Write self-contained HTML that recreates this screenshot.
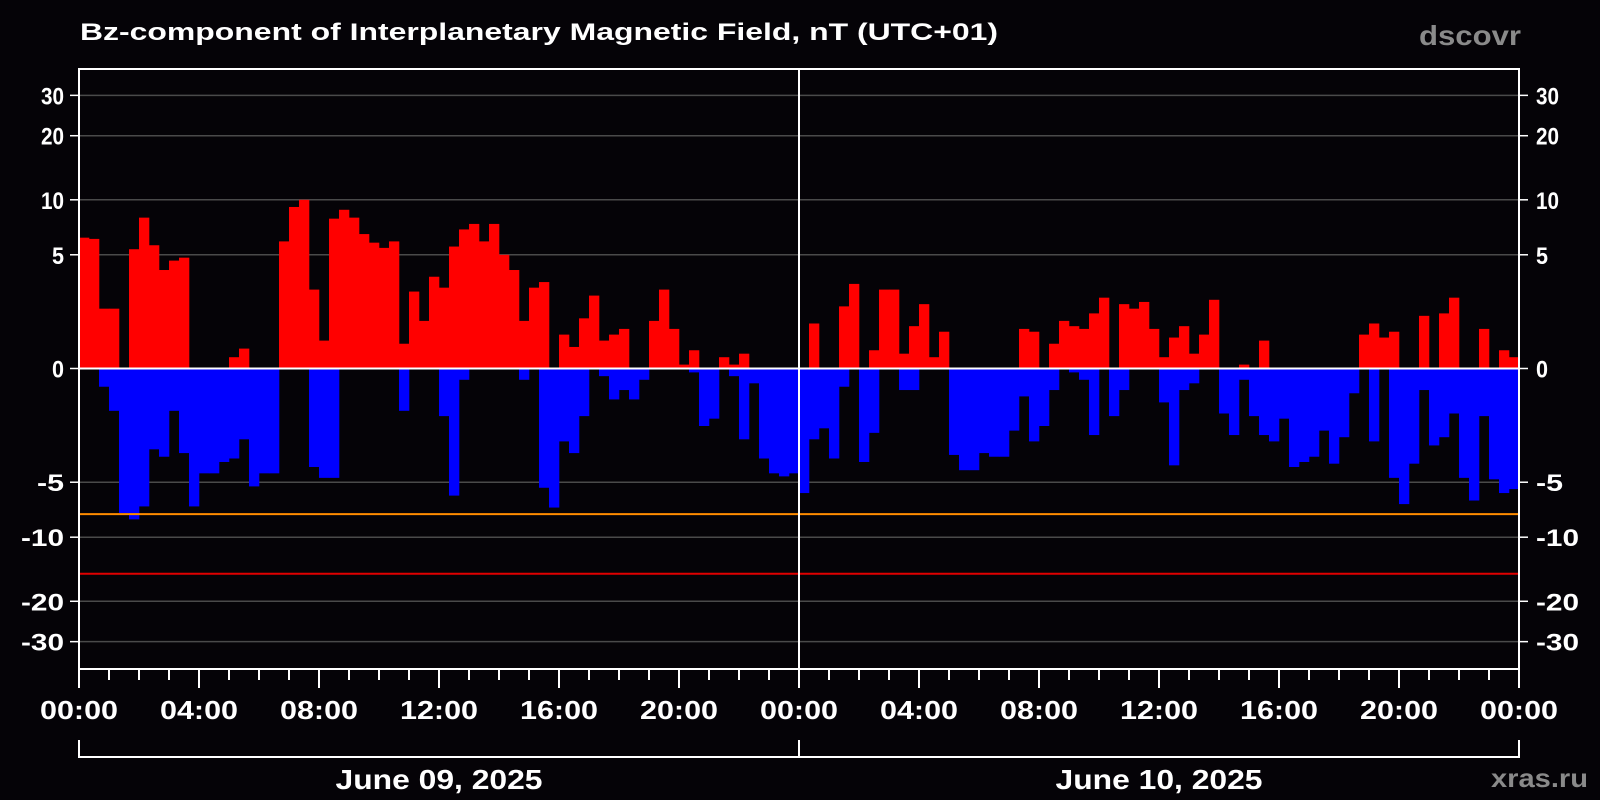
<!DOCTYPE html>
<html><head><meta charset="utf-8"><style>
html,body{margin:0;padding:0;background:#050307;}
svg{display:block;font-family:"Liberation Sans",sans-serif;font-weight:bold;}
</style></head><body>
<svg id="chart" width="1600" height="800" viewBox="0 0 1600 800" xmlns="http://www.w3.org/2000/svg">
<rect x="0" y="0" width="1600" height="800" fill="#050307"/>
<text x="80" y="40" fill="#ffffff" font-size="24" textLength="918" lengthAdjust="spacingAndGlyphs">Bz-component of Interplanetary Magnetic Field, nT (UTC+01)</text>
<text x="1419" y="45" fill="#8a8a8a" font-size="28" textLength="102" lengthAdjust="spacingAndGlyphs">dscovr</text>
<text x="1491" y="787" fill="#8a8a8a" font-size="26" textLength="97" lengthAdjust="spacingAndGlyphs">xras.ru</text>
<g id="grid"></g>
<g id="bars"></g>
<g id="axes"></g>
</svg>
<script>
const posBz = [6.3,6.2,2.0,2.0,0,5.4,8.1,5.7,4.0,4.6,
4.8,0,0,0,0,0.3,0.55,0,0,0,
6.0,9.2,10,2.9,0.8,8.0,8.9,8.1,6.6,5.9,
5.5,6.0,0.7,2.8,1.5,3.6,3.0,5.6,7.0,7.5,
6.0,7.5,5.0,4.0,1.5,3.0,3.3,0,1.0,0.6,
1.6,2.6,0.8,1.0,1.2,0,0,1.5,2.9,1.2,
0.1,0.5,0,0,0.3,0.1,0.4,0,0,0,
0,0,0,1.4,0,0,2.1,3.2,0,0.5,
2.9,2.9,0.4,1.3,2.2,0.3,1.1,0,0,0,
0,0,0,0,1.2,1.1,0,0.7,1.5,1.3,
1.2,1.8,2.5,0,2.2,2.0,2.3,1.2,0.3,0.9,
1.3,0.4,1.0,2.4,0,0,0.1,0,0.8,0,
0,0,0,0,0,0,0,0,1.0,1.4,
0.9,1.1,0,0,1.7,0,1.8,2.5,0,0,
1.2,0,0.5,0.3];
const negBz = [0,0,-0.5,-1.3,-7.5,-8.1,-6.9,-3,-3.4,-1.3,
-3.2,-6.9,-4.4,-4.4,-3.7,-3.5,-2.5,-5.3,-4.4,-4.4,
0,0,0,-4.0,-4.7,-4.7,0,0,0,0,
0,0,-1.3,0,0,0,-1.5,-6.0,-0.3,0,
0,0,0,0,-0.3,0,-5.4,-7.0,-2.6,-3.2,
-1.5,0,-0.2,-0.9,-0.6,-0.9,-0.3,0,0,0,
0,-0.1,-1.9,-1.6,0,-0.2,-2.5,-0.4,-3.5,-4.4,
-4.6,-4.4,-5.8,-2.5,-2.0,-3.5,-0.5,0,-3.7,-2.2,
0,0,-0.6,-0.6,0,0,0,-3.3,-4.2,-4.2,
-3.2,-3.4,-3.4,-2.1,-0.8,-2.6,-1.9,-0.6,0,-0.1,
-0.3,-2.3,0,-1.5,-0.6,0,0,0,-1.0,-3.9,
-0.6,-0.4,0,0,-1.4,-2.3,-0.3,-1.5,-2.3,-2.6,
-1.6,-4.0,-3.7,-3.4,-2.1,-3.8,-2.4,-0.7,0,-2.6,
0,-4.7,-6.7,-3.8,-0.6,-2.8,-2.4,-1.4,-4.7,-6.4,
-1.5,-4.8,-5.8,-5.5];
const yTicks = [30,20,10,5,0,-5,-10,-20,-30];
const xTickLabels = ["00:00","04:00","08:00","12:00","16:00","20:00","00:00","04:00","08:00","12:00","16:00","20:00","00:00"];
const dayLabels = ["June 09, 2025","June 10, 2025"];
const thresholds = [-7.6,-15];

const NS="http://www.w3.org/2000/svg";
const L=79,R=1519,T=69,B=669,Y0=368.5;
const totalHours=48;
function xh(h){return L+(R-L)*h/totalHours;}
function yv(v){const s=v<0?-1:1;return Y0-s*111*Math.log(1+Math.abs(v)/2.8);}
function mk(tag,attrs,parent){const e=document.createElementNS(NS,tag);for(const k in attrs)e.setAttribute(k,attrs[k]);parent.appendChild(e);return e;}
const grid=document.getElementById('grid'),bars=document.getElementById('bars'),axes=document.getElementById('axes');

yTicks.forEach(v=>{
  const y=yv(v);
  if(v!==0){const g=mk('line',{x1:L,x2:R,y1:y,y2:y,stroke:'#4a4a4a','stroke-width':1.5},grid);
  
  }
  const t1=mk('line',{x1:70,x2:L,y1:y,y2:y,stroke:'#fff','stroke-width':1.5},axes);
  
  
  const t2=mk('line',{x1:R,x2:R+9,y1:y,y2:y,stroke:'#fff','stroke-width':1.5},axes);
  
  
  const s=String(v);
  const w=s.length===1?12:(s.length===2?(v<0?27:23):43);
  const lt=mk('text',{x:64,y:y+9,fill:'#fff','font-size':24,'text-anchor':'end',textLength:w,lengthAdjust:'spacingAndGlyphs'},axes);
  lt.textContent=s;
  
  
  const rt=mk('text',{x:1536,y:y+9,fill:'#fff','font-size':24,textLength:w,lengthAdjust:'spacingAndGlyphs'},axes);
  rt.textContent=s;
  
  
});

const bw=(R-L)/posBz.length;
posBz.forEach((p,i)=>{
  if(p>0){const r=mk('rect',{x:L+i*bw,y:yv(p),width:bw+0.3,height:Y0-yv(p),fill:'#ff0000'},bars);
  
  }
});
negBz.forEach((n,i)=>{
  if(n<0){const r=mk('rect',{x:L+i*bw,y:Y0,width:bw+0.3,height:yv(n)-Y0,fill:'#0000ff'},bars);
  
  }
});

const thrColors=['#ff8c00','#e00000'];
thresholds.forEach((v,i)=>{
  const l=mk('line',{x1:L,x2:R,y1:yv(v),y2:yv(v),stroke:thrColors[i],'stroke-width':2},axes);
  
  
});
const z=mk('line',{x1:L,x2:R,y1:Y0,y2:Y0,stroke:'#fff','stroke-width':2},axes);


const mid=mk('line',{x1:xh(24),x2:xh(24),y1:T,y2:B,stroke:'#fff','stroke-width':2},axes);


const frame=mk('rect',{x:L,y:T,width:R-L,height:B-T,fill:'none',stroke:'#fff','stroke-width':2},axes);



for(let h=0;h<=totalHours;h++){
  const major=h%4===0;
  const t=mk('line',{x1:xh(h),x2:xh(h),y1:B,y2:B+(major?19:11),stroke:'#fff','stroke-width':2},axes);
  
  
}
xTickLabels.forEach((s,i)=>{
  const t=mk('text',{x:xh(i*4),y:719,fill:'#fff','font-size':26,'text-anchor':'middle',textLength:78,lengthAdjust:'spacingAndGlyphs'},axes);
  t.textContent=s;
  
  
});
const br=mk('path',{d:`M${L},740 V757 H${R} V740 M${xh(24)},740 V757`,fill:'none',stroke:'#fff','stroke-width':2},axes);


dayLabels.forEach((s,i)=>{
  const t=mk('text',{x:xh(12+24*i),y:789,fill:'#fff','font-size':28,'text-anchor':'middle',textLength:207,lengthAdjust:'spacingAndGlyphs'},axes);
  t.textContent=s;
  
  
});
</script>
</body></html>
